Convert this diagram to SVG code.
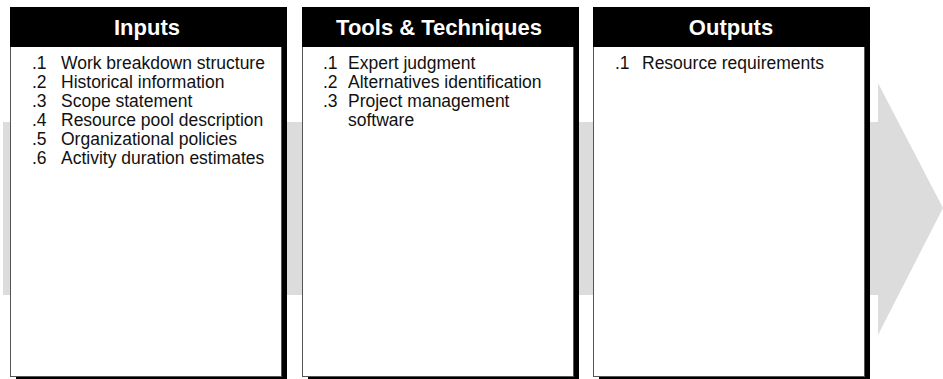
<svg xmlns="http://www.w3.org/2000/svg" width="943" height="379" viewBox="0 0 943 379">
<style>
.arrow{fill:#dcdcdc}
.shadow{fill:#000}
.body{fill:#fff;stroke:#555;stroke-width:1}
.head{fill:#000}
.title{font-family:"Liberation Sans",Arial,sans-serif;font-weight:bold;font-size:22px;fill:#fff;text-anchor:middle}
.item{font-family:"Liberation Sans",Arial,sans-serif;font-size:17.5px;fill:#111}
</style>
<g id="flow-arrow">
<polygon class="arrow" points="3,122 878,122 878,83 943,208 878,335 878,295 3,295"/>
</g>
<g id="inputs">
<rect class="shadow" x="16" y="13" width="271" height="366"/>
<rect class="body" x="10.5" y="7.5" width="271" height="369"/>
<rect class="head" x="10" y="7" width="277" height="40"/>
<text class="title" x="147" y="35">Inputs</text>
<text class="item"><tspan x="32" y="69">.1</tspan><tspan x="61" y="69">Work breakdown structure</tspan><tspan x="32" y="88">.2</tspan><tspan x="61" y="88">Historical information</tspan><tspan x="32" y="107">.3</tspan><tspan x="61" y="107">Scope statement</tspan><tspan x="32" y="126">.4</tspan><tspan x="61" y="126">Resource pool description</tspan><tspan x="32" y="145">.5</tspan><tspan x="61" y="145">Organizational policies</tspan><tspan x="32" y="164">.6</tspan><tspan x="61" y="164">Activity duration estimates</tspan></text>
</g>
<g id="tools">
<rect class="shadow" x="308" y="13" width="271" height="366"/>
<rect class="body" x="302.5" y="7.5" width="271" height="369"/>
<rect class="head" x="302" y="7" width="277" height="40"/>
<text class="title" x="439" y="35">Tools &amp; Techniques</text>
<text class="item"><tspan x="323" y="69">.1</tspan><tspan x="348" y="69">Expert judgment</tspan><tspan x="323" y="88">.2</tspan><tspan x="348" y="88">Alternatives identification</tspan><tspan x="323" y="107">.3</tspan><tspan x="348" y="107">Project management</tspan><tspan x="348" y="126">software</tspan></text>
</g>
<g id="outputs">
<rect class="shadow" x="599" y="13" width="271" height="366"/>
<rect class="body" x="593.5" y="7.5" width="271" height="369"/>
<rect class="head" x="593" y="7" width="277" height="40"/>
<text class="title" x="731" y="35">Outputs</text>
<text class="item"><tspan x="615" y="69">.1</tspan><tspan x="642" y="69">Resource requirements</tspan></text>
</g>
</svg>
